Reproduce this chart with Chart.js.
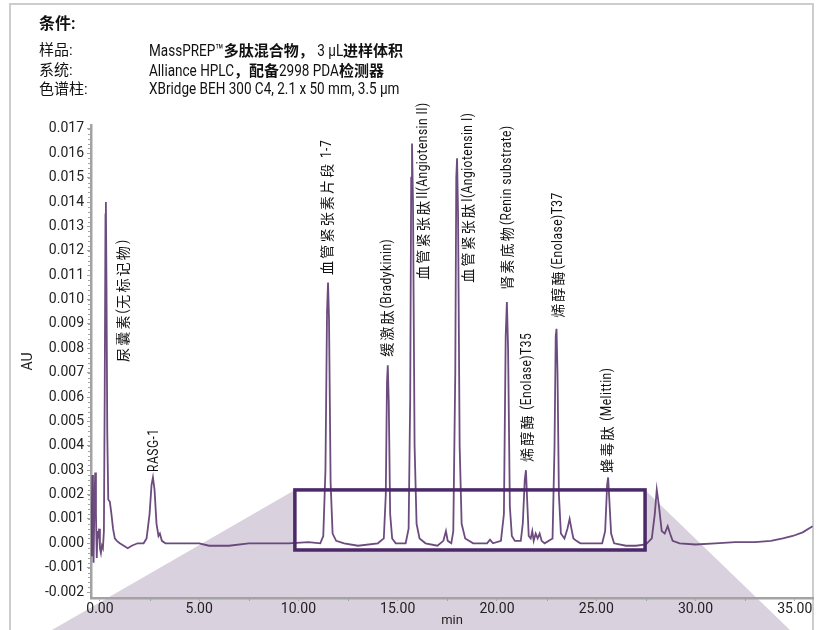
<!DOCTYPE html>
<html><head><meta charset="utf-8">
<script src="https://cdn.jsdelivr.net/npm/chart.js@4"></script>
<style>
html,body{margin:0;padding:0;background:#fff;}
#wrap{position:relative;width:821px;height:630px;overflow:hidden;background:#fff;}
#frame{position:absolute;left:9px;top:3px;width:805px;height:700px;border:2px solid #cdcdcd;box-sizing:border-box;}
canvas{position:absolute;left:0;top:0;}
.h{position:absolute;font-family:Roboto,"Noto Sans CJK SC",sans-serif;font-size:15px;color:#111;white-space:nowrap;line-height:18px;}
.b{font-weight:bold;font-size:16px;}
.lat{display:inline-block;font-family:Roboto,"DejaVu Sans",sans-serif;font-size:16.5px;transform-origin:0 50%;white-space:pre;}
.cjk{font-family:"Noto Sans CJK SC",sans-serif;font-weight:bold;font-size:15px;}
</style></head>
<body><div id="wrap">
<div id="frame"></div>
<canvas id="c" width="821" height="630"></canvas>
<div class="h b" style="left:39px;top:15px;">条件:</div>
<div class="h" style="left:39px;top:41px;">样品:</div>
<div class="h mix" style="left:149px;top:41px;">MassPREP™多肽混合物， 3 μL进样体积</div>
<div class="h" style="left:39px;top:61px;">系统:</div>
<div class="h mix" style="left:149px;top:61px;">Alliance HPLC，配备2998 PDA检测器</div>
<div class="h" style="left:39px;top:80px;">色谱柱:</div>
<div class="h mix" style="left:149px;top:80px;">XBridge BEH 300 C4, 2.1 x 50 mm, 3.5 μm</div>
</div>
<script>
// ---- data ----
const times = [-0.45,-0.42,-0.38,-0.35,-0.32,-0.28,-0.24,-0.2,-0.16,-0.12,-0.08,-0.04,0.0,0.05,0.1,0.15,0.2,0.24,0.28,0.30,0.33,0.37,0.42,0.5,0.58,0.66,0.75,0.85,1.0,1.2,1.4,1.6,1.9,2.2,2.35,2.5,2.6,2.67,2.75,2.85,2.95,3.02,3.12,3.3,4.0,5.0,5.5,6.5,7.5,8.5,9.5,10.5,11.1,11.25,11.36,11.44,11.49,11.54,11.62,11.72,11.9,12.3,13.0,14.0,14.3,14.4,14.46,14.5,14.55,14.62,14.72,14.9,15.4,15.55,15.63,15.68,15.72,15.77,15.85,15.95,16.1,16.4,17.0,17.3,17.43,17.52,17.7,17.8,17.9,17.95,17.99,18.04,18.12,18.22,18.4,18.8,19.5,19.65,19.8,20.2,20.35,20.44,20.5,20.56,20.65,20.75,20.9,21.2,21.3,21.4,21.46,21.52,21.6,21.7,21.78,21.85,21.95,22.05,22.15,22.25,22.4,22.8,22.9,22.96,23.0,23.05,23.12,23.22,23.4,23.55,23.66,23.75,23.85,24.0,24.2,24.6,25.3,25.45,25.55,25.6,25.66,25.75,25.9,26.5,27.0,27.5,27.8,27.95,28.05,28.15,28.3,28.45,28.6,28.72,28.85,29.2,30.0,31.0,32.0,33.0,33.8,34.4,34.9,35.4,35.9];
const au = [-0.0005,0.0008,0.0028,0.0010,-0.0008,0.0015,0.0029,0.0012,-0.0006,0.0005,0.0002,0.0006,-0.0002,-0.0004,-0.0001,-0.0002,0.0005,0.006,0.0135,0.0140,0.0106,0.0045,0.0018,0.0017,0.0012,0.0006,0.0002,0.0001,0.0,-0.0001,-0.0002,-0.0001,0.0,0.0,0.0002,0.0012,0.0024,0.0027,0.0022,0.0008,0.0003,0.0004,0.0001,0.0,0.0,0.0,-0.0001,-0.0001,0.0,0.0,0.0,0.00005,0.0,0.0003,0.003,0.0095,0.0107,0.0092,0.0025,0.0004,0.0001,0.0,-0.0001,0.0,0.0002,0.002,0.0066,0.0073,0.0058,0.0012,0.0002,0.0,0.0,0.0006,0.0060,0.0150,0.0164,0.0140,0.0040,0.0008,0.0002,0.0,-0.0001,0.0001,0.0005,0.0001,0.0,0.0005,0.0070,0.0150,0.0158,0.0135,0.0040,0.0008,0.0002,0.0,0.0,0.00015,0.0,0.0001,0.0012,0.0085,0.0099,0.0080,0.0015,0.0003,0.0001,0.0001,0.0008,0.0026,0.0030,0.0018,0.0003,0.0002,0.0005,0.0001,0.0004,0.0002,0.0004,0.0001,0.0,0.0002,0.0040,0.0085,0.0088,0.0070,0.0020,0.0004,0.0002,0.0006,0.0010,0.0006,0.0002,0.0001,0.0,0.0,0.0,0.0005,0.0024,0.0027,0.0018,0.0004,0.0,-0.0001,-0.0001,-0.00005,0.0002,0.0012,0.0022,0.0016,0.0005,0.0004,0.0007,0.0004,0.0001,0.0,-0.00005,0.0,0.00005,0.00005,0.0001,0.0002,0.0003,0.00045,0.0007];

const xTicks = [0,5,10,15,20,25,30,35];
const yTicks = [-0.002,-0.001,0.000,0.001,0.002,0.003,0.004,0.005,0.006,0.007,0.008,0.009,0.010,0.011,0.012,0.013,0.014,0.015,0.016,0.017];

// peak annotations: text, anchor time (min), anchor AU (start of rotated text)
const peakNames = ['尿囊素(无标记物)','RASG-1','血管紧张素片段 1-7','缓激肽(Bradykinin)','血管紧张肽II(Angiotensin II)','血管紧张肽I(Angiotensin I)','肾素底物(Renin substrate)','烯醇酶 (Enolase)T35','烯醇酶(Enolase)T37','蜂毒肽 (Melittin)'];
const peakLabelT = [1.16,2.72,11.44,14.46,16.27,18.54,20.5,21.51,23.07,25.54];
const peakLabelAU = [0.00744,0.00293,0.01101,0.00765,0.01081,0.01069,0.0104,0.00334,0.00925,0.00289];

// zoom box (min, AU) and fan foot (min at canvas bottom)
const boxT = [9.82, 27.46];
const boxAU = [-0.000275, 0.00219];
const fanT = [-2.42, 34.76];

const CJK = /[\u3000-\u9fff\uff00-\uffef]/;
const RUNS = /[\u3000-\u9fff\uff00-\uffef]+|[^\u3000-\u9fff\uff00-\uffef]+/g;

// header: condensed latin runs, bold CJK runs (text stays in DOM)
document.querySelectorAll('.mix').forEach(el=>{
  const s = el.textContent; el.textContent='';
  (s.match(RUNS)||[]).forEach(r=>{
    const sp=document.createElement('span');
    sp.textContent=r;
    sp.className = CJK.test(r) ? 'cjk' : 'lat';
    el.appendChild(sp);
    if(sp.className==='lat'){
      const w=sp.getBoundingClientRect().width, k=0.82;
      sp.style.transform='scaleX('+k+')';
      sp.style.marginRight=(-(1-k)*w)+'px';
    }
  });
});

function drawMixed(ctx, s){
  const runs = s.match(RUNS);
  let x = 0;
  const ls = ('letterSpacing' in ctx);
  for(const r of runs){
    if(CJK.test(r)){
      ctx.font = '14px "Noto Sans CJK SC",sans-serif';
      if(ls) ctx.letterSpacing = '2.2px';
      ctx.fillText(r, x, 0);
      x += ctx.measureText(r).width;
    } else {
      ctx.font = '15px Roboto,"DejaVu Sans",sans-serif';
      if(ls) ctx.letterSpacing = '0.6px';
      ctx.save(); ctx.translate(x,0); ctx.scale(0.8,1); ctx.fillText(r,0,0); ctx.restore();
      x += ctx.measureText(r).width*0.8;
    }
  }
  if(ls) ctx.letterSpacing='0px';
}

const overlay = {
  id:'overlay',
  beforeDraw(chart){
    const {ctx, scales:{x,y}} = chart;
    const L=x.getPixelForValue(boxT[0]), R=x.getPixelForValue(boxT[1]);
    const T=y.getPixelForValue(boxAU[1]), B=y.getPixelForValue(boxAU[0]);
    const H=chart.height;
    ctx.save();
    ctx.fillStyle='#dad1df';
    ctx.beginPath();
    ctx.moveTo(x.getPixelForValue(fanT[0]),H);
    ctx.lineTo(L,T);ctx.lineTo(L,B);ctx.lineTo(R,B);ctx.lineTo(R,T);
    ctx.lineTo(x.getPixelForValue(fanT[1]),H);
    ctx.closePath();ctx.fill();
    ctx.restore();
  },
  afterDraw(chart){
    const {ctx, scales:{x,y}} = chart;
    ctx.save();
    ctx.strokeStyle='#a3a3a3';ctx.lineWidth=1;
    const ax=chart.chartArea.left;
    for(let v=-0.002; v<=0.0171; v+=0.0002){
      const py=Math.round(y.getPixelForValue(v))+0.5;
      ctx.beginPath();ctx.moveTo(ax-3,py);ctx.lineTo(ax,py);ctx.stroke();
    }
    const by=chart.chartArea.bottom;
    for(let t=2.5; t<36; t+=5){
      const px=Math.round(x.getPixelForValue(t))+0.5;
      ctx.beginPath();ctx.moveTo(px,by);ctx.lineTo(px,by+3);ctx.stroke();
    }
    const L=x.getPixelForValue(boxT[0]), R=x.getPixelForValue(boxT[1]);
    const T=y.getPixelForValue(boxAU[1]), B=y.getPixelForValue(boxAU[0]);
    ctx.strokeStyle='#4b2868';ctx.lineWidth=3.5;
    ctx.strokeRect(L,T,R-L,B-T);
    ctx.fillStyle='#111';
    ctx.textAlign='left';ctx.textBaseline='middle';
    peakNames.forEach((s,i)=>{
      const px=x.getPixelForValue(peakLabelT[i]), py=y.getPixelForValue(peakLabelAU[i]);
      ctx.save();ctx.translate(px,py);ctx.rotate(-Math.PI/2);drawMixed(ctx,s);ctx.restore();
    });
    ctx.restore();
  }
};

Chart.defaults.font.family='Roboto,"DejaVu Sans",sans-serif';
Chart.defaults.color='#222';

new Chart(document.getElementById('c'),{
  type:'line',
  data:{datasets:[{
    data: times.map((t,i)=>({x:t,y:au[i]})),
    borderColor:'rgba(92,56,112,0.9)',borderWidth:1.8,pointRadius:0,tension:0,fill:false
  }]},
  options:{
    responsive:false,animation:false,devicePixelRatio:1,
    layout:{padding:{left:12,right:8,top:125,bottom:0}},
    plugins:{legend:{display:false},tooltip:{enabled:false}},
    scales:{
      x:{type:'linear',min:-0.45,max:35.92,
        afterBuildTicks(s){s.ticks=xTicks.map(v=>({value:v}));},
        afterFit(s){s.height=32;},
        grid:{drawOnChartArea:false,drawTicks:true,tickLength:3,color:'#a3a3a3'},
        border:{display:true,color:'#a3a3a3',width:2.5},
        ticks:{padding:0,maxRotation:0,autoSkip:false,color:'#222',
          font:{size:14,family:'Roboto,"DejaVu Sans",sans-serif'},
          callback:v=>v.toFixed(2)},
        title:{display:true,text:'min',padding:{top:0,bottom:1},color:'#222',
          font:{size:13,family:'Roboto,"DejaVu Sans",sans-serif'}}
      },
      y:{type:'linear',min:-0.002245,max:0.017164,
        afterBuildTicks(s){s.ticks=yTicks.map(v=>({value:v}));},
        afterFit(s){s.width=79;},
        grid:{drawOnChartArea:false,drawTicks:true,tickLength:4,color:'#a3a3a3'},
        border:{display:true,color:'#a3a3a3',width:2.5},
        ticks:{padding:3,autoSkip:false,color:'#222',font:{size:14},callback:v=>v.toFixed(3)},
        title:{display:true,text:'AU',padding:{top:8,bottom:0},color:'#222',font:{size:14}}
      }
    }
  },
  plugins:[overlay]
});
</script>
</body></html>
